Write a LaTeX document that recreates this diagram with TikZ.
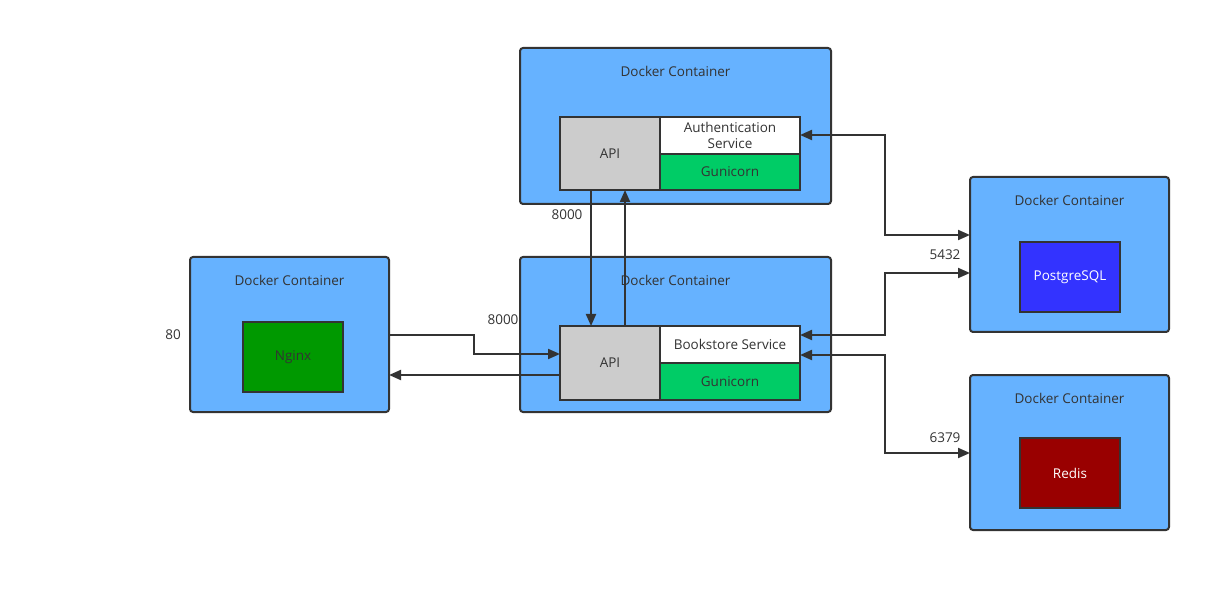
\documentclass[tikz,border=0pt]{standalone}
\usepackage{fontspec}
\setmainfont{Open Sans}
\usetikzlibrary{arrows.meta}
\definecolor{ink}{HTML}{333333}
\definecolor{dockerblue}{HTML}{66B2FF}
\definecolor{apigray}{HTML}{CCCCCC}
\definecolor{gunigreen}{HTML}{00CC66}
\definecolor{nginxgreen}{HTML}{009900}
\definecolor{pgblue}{HTML}{3333FF}
\definecolor{redisred}{HTML}{990000}
\begin{document}
\begin{tikzpicture}[x=1pt,y=-1pt,line width=2pt,draw=ink,text=ink,
    font=\fontsize{13.5}{16}\selectfont,
    box/.style={draw,inner sep=0pt,outer sep=0pt},
    container/.style={box,fill=dockerblue,rounded corners=3pt},
    conn/.style={line width=2pt,-{Triangle[length=12pt,width=10pt]}},
    both/.style={line width=2pt,{Triangle[length=12pt,width=10pt]}-{Triangle[length=12pt,width=10pt]}}]
  \useasboundingbox (0,0) rectangle (1231,593);
  % containers
  \node (auth) [container,minimum width=311,minimum height=156] at (675.5,126) {};
  \node (book) [container,minimum width=311,minimum height=155] at (675.5,334.5) {};
  \node (web) [container,minimum width=199,minimum height=155] at (289.5,334.5) {};
  \node (pg) [container,minimum width=199,minimum height=155] at (1069.5,254.5) {};
  \node (cache) [container,minimum width=199,minimum height=155] at (1069.5,452.5) {};
  \node at (675.5,71) {Docker Container};
  \node at (675.5,280) {Docker Container};
  \node at (289.5,280) {Docker Container};
  \node at (1069.5,200) {Docker Container};
  \node at (1069.5,398) {Docker Container};
  % auth service
  \node (authapi) [box,fill=apigray,minimum width=100,minimum height=73] at (610,153.5) {API};
  \node (authsvc) [box,fill=white,minimum width=140,minimum height=37,align=center] at (730,135.5) {Authentication\\Service};
  \node (authgu) [box,fill=gunigreen,minimum width=140,minimum height=36] at (730,172) {Gunicorn};
  % bookstore service
  \node (bookapi) [box,fill=apigray,minimum width=100,minimum height=74] at (610,363) {API};
  \node (booksvc) [box,fill=white,minimum width=140,minimum height=37] at (730,344.5) {Bookstore Service};
  \node (bookgu) [box,fill=gunigreen,minimum width=140,minimum height=37] at (730,381.5) {Gunicorn};
  % backends
  \node (nginx) [box,fill=nginxgreen,minimum width=100,minimum height=70] at (293,357) {Nginx};
  \node (pgdb) [box,fill=pgblue,text=white,minimum width=100,minimum height=70] at (1070,277) {PostgreSQL};
  \node (redis) [box,fill=redisred,text=white,minimum width=100,minimum height=70] at (1070,473) {Redis};
  % ports
  \node at (173,335) {80};
  \node at (503,320) {8000};
  \node at (567,215) {8000};
  \node at (945,255) {5432};
  \node at (945,438) {6379};
  % connectors
  \draw[conn] (authapi.south -| 591,0) -- (bookapi.north -| 591,0);
  \draw[conn] (bookapi.north -| 625,0) -- (authapi.south -| 625,0);
  \draw[conn] (web.east |- 0,335) -- (474,335) -- (474,354) -- (bookapi.west |- 0,354);
  \draw[conn] (bookapi.west |- 0,375) -- (web.east |- 0,375);
  \draw[both] (authsvc.east |- 0,135) -- (885,135) -- (885,235) -- (pg.west |- 0,235);
  \draw[both] (booksvc.east |- 0,335) -- (885,335) -- (885,273) -- (pg.west |- 0,273);
  \draw[both] (booksvc.east |- 0,355) -- (885,355) -- (885,453) -- (cache.west |- 0,453);
\end{tikzpicture}
\end{document}
